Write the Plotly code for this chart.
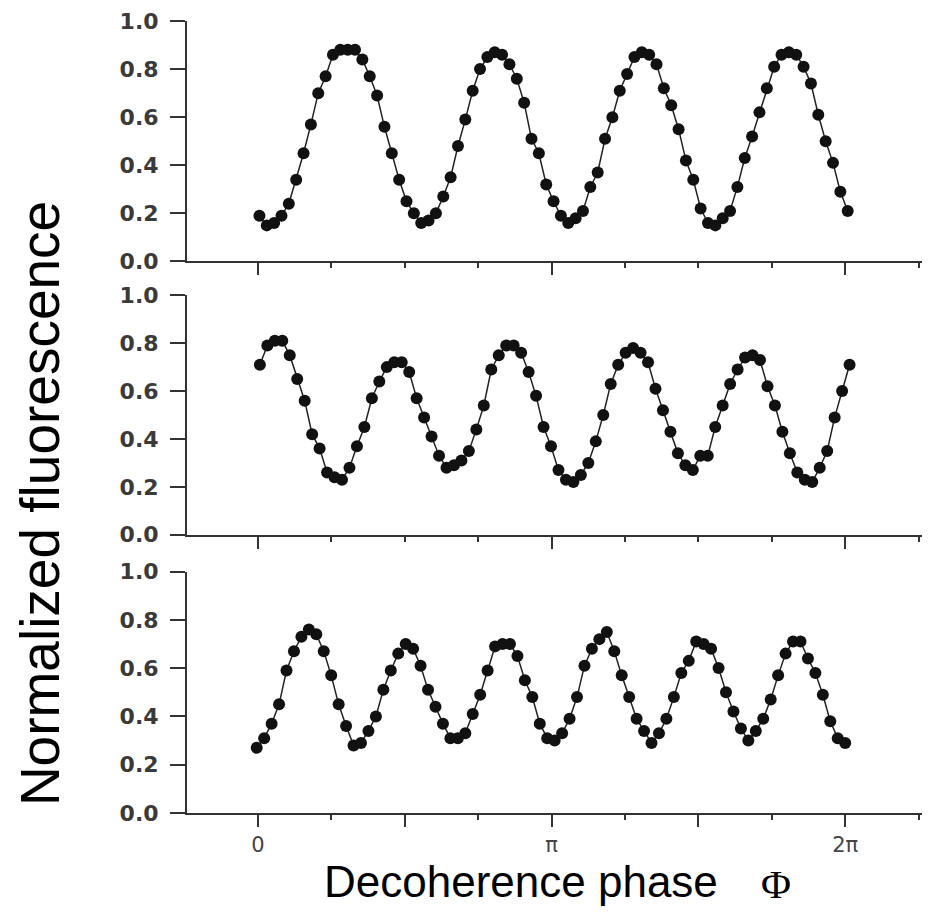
import numpy as np
import plotly.graph_objects as go

# ---- data ----
# phase scan limits (radians) of each panel and measured normalized fluorescence
top_phase_start, top_phase_end = 0.015, 6.31
top_values = [0.19, 0.15, 0.16, 0.19, 0.24, 0.34, 0.45, 0.57, 0.70, 0.77, 0.86, 0.88, 0.88, 0.88,
              0.84, 0.77, 0.69, 0.56, 0.45, 0.34, 0.25, 0.20, 0.16, 0.17, 0.20, 0.27, 0.35, 0.48,
              0.59, 0.71, 0.80, 0.85, 0.87, 0.86, 0.82, 0.76, 0.66, 0.51, 0.45, 0.32, 0.25, 0.19,
              0.16, 0.18, 0.21, 0.31, 0.37, 0.51, 0.60, 0.71, 0.78, 0.85, 0.87, 0.86, 0.82, 0.72,
              0.65, 0.55, 0.42, 0.34, 0.22, 0.16, 0.15, 0.18, 0.21, 0.31, 0.43, 0.52, 0.62, 0.72,
              0.81, 0.86, 0.87, 0.86, 0.81, 0.74, 0.61, 0.50, 0.41, 0.29, 0.21]

mid_phase_start, mid_phase_end = 0.02, 6.33
mid_values = [0.71, 0.79, 0.81, 0.81, 0.75, 0.65, 0.56, 0.42, 0.36, 0.26, 0.24, 0.23, 0.28, 0.37,
              0.45, 0.57, 0.64, 0.70, 0.72, 0.72, 0.68, 0.57, 0.49, 0.41, 0.33, 0.28, 0.29, 0.31,
              0.35, 0.44, 0.54, 0.69, 0.75, 0.79, 0.79, 0.76, 0.68, 0.58, 0.45, 0.37, 0.27, 0.23,
              0.22, 0.25, 0.30, 0.39, 0.50, 0.63, 0.71, 0.76, 0.78, 0.76, 0.72, 0.61, 0.52, 0.43,
              0.34, 0.29, 0.27, 0.33, 0.33, 0.45, 0.54, 0.63, 0.69, 0.74, 0.75, 0.73, 0.62, 0.54,
              0.43, 0.34, 0.26, 0.23, 0.22, 0.28, 0.35, 0.49, 0.60, 0.71]

bot_phase_start, bot_phase_end = -0.014, 6.283
bot_values = [0.27, 0.31, 0.37, 0.45, 0.59, 0.67, 0.73, 0.76, 0.74, 0.67, 0.57, 0.45, 0.36, 0.28,
              0.29, 0.34, 0.40, 0.51, 0.59, 0.66, 0.70, 0.68, 0.61, 0.51, 0.44, 0.37, 0.31, 0.31,
              0.33, 0.41, 0.49, 0.59, 0.69, 0.70, 0.70, 0.65, 0.55, 0.48, 0.37, 0.31, 0.30, 0.33,
              0.39, 0.48, 0.61, 0.68, 0.72, 0.75, 0.67, 0.57, 0.48, 0.39, 0.34, 0.29, 0.33, 0.39,
              0.48, 0.58, 0.63, 0.71, 0.70, 0.68, 0.60, 0.50, 0.42, 0.35, 0.30, 0.34, 0.39, 0.47,
              0.57, 0.66, 0.71, 0.71, 0.64, 0.58, 0.49, 0.38, 0.31, 0.29]

y_tick_vals = [0.0, 0.2, 0.4, 0.6, 0.8, 1.0]
y_tick_text = ["0.0", "0.2", "0.4", "0.6", "0.8", "1.0"]
x_tick_vals = [0, np.pi / 2, np.pi, 3 * np.pi / 2, 2 * np.pi]
x_tick_text = ["0", "", "\u03c0", "", "2\u03c0"]

panels = [
    (np.linspace(top_phase_start, top_phase_end, len(top_values)), top_values),
    (np.linspace(mid_phase_start, mid_phase_end, len(mid_values)), mid_values),
    (np.linspace(bot_phase_start, bot_phase_end, len(bot_values)), bot_values),
]

fig = go.Figure()
for i, (xs, ys) in enumerate(panels):
    sfx = "" if i == 0 else str(i + 1)
    fig.add_trace(go.Scatter(
        x=xs, y=ys, mode="lines+markers",
        xaxis="x" + sfx, yaxis="y" + sfx,
        marker=dict(size=12, color="#111111"),
        line=dict(color="#222222", width=1.5),
        showlegend=False,
    ))

domains = [[0.6964, 1.0], [0.3513, 0.6537], [0.0, 0.3049]]
y_tick_font = dict(family="DejaVu Sans", size=22, color="#3a3a3a", weight="bold")
x_tick_font = dict(family="DejaVu Sans", size=21, color="#444444")
axis_color = "#333333"

layout = dict(
    width=931, height=915,
    margin=dict(l=187, r=9, t=16, b=102),
    plot_bgcolor="white", paper_bgcolor="white",
    showlegend=False,
)
for i, dom in enumerate(domains):
    sfx = "" if i == 0 else str(i + 1)
    layout["xaxis" + sfx] = dict(
        domain=[0, 1], anchor="y" + sfx, range=[-0.76, 7.105],
        showline=True, linecolor=axis_color, linewidth=2,
        ticks="outside", ticklen=12, tickwidth=2, tickcolor=axis_color,
        tickvals=x_tick_vals, ticktext=x_tick_text,
        showticklabels=(i == 2), tickfont=x_tick_font,
        minor=dict(dtick=np.pi / 4, tick0=0, ticks="outside", ticklen=5,
                   tickwidth=2, tickcolor=axis_color, showgrid=False),
        showgrid=False, zeroline=False,
    )
    layout["yaxis" + sfx] = dict(
        domain=dom, anchor="x" + sfx, range=[0, 1],
        showline=True, linecolor=axis_color, linewidth=2,
        ticks="outside", ticklen=15, tickwidth=2, tickcolor=axis_color,
        tickvals=y_tick_vals, ticktext=y_tick_text, tickfont=y_tick_font,
        ticklabelstandoff=7,
        showgrid=False, zeroline=False,
    )

layout["annotations"] = [
    dict(text="Normalized fluorescence", textangle=-90, xref="paper", yref="paper",
         x=-0.2, y=0.39, xanchor="center", yanchor="middle", showarrow=False,
         font=dict(family="Liberation Sans, Arial", size=55, color="black")),
    dict(text="Decoherence phase", xref="paper", yref="paper",
         x=0.4544, y=-0.087, xanchor="center", yanchor="middle", showarrow=False,
         font=dict(family="Liberation Sans, Arial", size=44, color="black")),
    dict(text="\u03a6", xref="paper", yref="paper",
         x=0.801, y=-0.09, xanchor="center", yanchor="middle", showarrow=False,
         font=dict(family="Liberation Serif, Times New Roman", size=41, color="black")),
]

fig.update_layout(**layout)
fig.write_html("out.html", config={"displayModeBar": False},
               post_script="document.body.style.margin='0px';document.body.style.overflow='hidden';")
